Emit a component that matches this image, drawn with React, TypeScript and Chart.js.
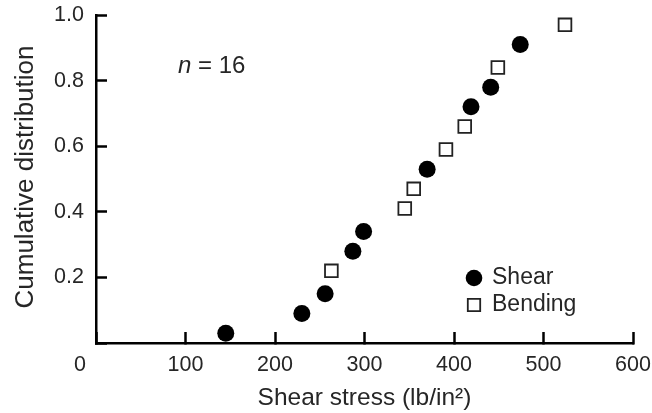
import React, { useEffect, useRef } from 'react';
import { Chart, registerables } from 'chart.js';

Chart.register(...registerables);

// ---- data ----
const shearX = [145, 230, 256, 287, 299, 370, 419, 441, 474];
const shearY = [0.03, 0.09, 0.15, 0.28, 0.34, 0.53, 0.72, 0.78, 0.91];
const bendingX = [263, 345, 355, 391, 412, 449, 524];
const bendingY = [0.22, 0.41, 0.47, 0.59, 0.66, 0.84, 0.97];
const xTickValues = [0, 100, 200, 300, 400, 500, 600];
const yTickValues = [0.2, 0.4, 0.6, 0.8, 1.0];
const seriesNames = ['Shear', 'Bending'];
const xTitle = 'Shear stress (lb/in\u00B2)';
const yTitle = 'Cumulative distribution';
const sampleLabel = 'n';
const sampleValue = ' = 16';

const FONT = '"Liberation Sans", Arial, Helvetica, sans-serif';
const TEXT = '#262626';
const TICK_FS = 21.5;

const overlayPlugin = {
  id: 'overlay',
  afterDraw(chart: any) {
    const { ctx, chartArea, scales } = chart;
    const xs = scales.x;
    ctx.save();
    ctx.fillStyle = TEXT;
    // "0" label on x axis (offset left of the axis corner)
    ctx.font = `${TICK_FS}px ${FONT}`;
    ctx.textAlign = 'center';
    ctx.textBaseline = 'middle';
    ctx.fillText(String(xTickValues[0]), xs.getPixelForValue(xTickValues[0]) - 16, chartArea.bottom + 22);

    // y axis title
    ctx.save();
    ctx.font = `26px ${FONT}`;
    ctx.translate(26, (chartArea.top + chartArea.bottom) / 2 - 2);
    ctx.rotate(-Math.PI / 2);
    ctx.textAlign = 'center';
    ctx.textBaseline = 'middle';
    ctx.fillText(yTitle, 0, 0);
    ctx.restore();

    // n = 16
    ctx.textAlign = 'left';
    ctx.textBaseline = 'middle';
    const nx = chartArea.left + 82;
    const ny = chartArea.top + 51;
    ctx.font = `italic 24px ${FONT}`;
    ctx.fillText(sampleLabel, nx, ny);
    const nw = ctx.measureText(sampleLabel).width;
    ctx.font = `24px ${FONT}`;
    ctx.fillText(sampleValue, nx + nw, ny);

    // legend
    const lx = chartArea.left + 378;
    const ly1 = chartArea.top + 263;
    const ly2 = chartArea.top + 290;
    ctx.fillStyle = '#000';
    ctx.beginPath();
    ctx.arc(lx, ly1, 8.3, 0, Math.PI * 2);
    ctx.fill();
    ctx.fillStyle = '#fff';
    ctx.strokeStyle = '#222';
    ctx.lineWidth = 1.8;
    ctx.beginPath();
    ctx.rect(lx - 6.2, ly2 - 6.2, 12.4, 12.4);
    ctx.fill();
    ctx.stroke();
    ctx.fillStyle = TEXT;
    ctx.font = `23px ${FONT}`;
    ctx.textAlign = 'left';
    ctx.fillText(seriesNames[0], lx + 18, ly1);
    ctx.fillText(seriesNames[1], lx + 18, ly2);
    ctx.restore();
  },
};

const zeroPadding = (s: any) => {
  s.paddingTop = 0;
  s.paddingBottom = 0;
  s.paddingLeft = 0;
  s.paddingRight = 0;
};

export default function App() {
  const ref = useRef<HTMLCanvasElement>(null);
  useEffect(() => {
    document.body.style.margin = '0';
    const canvas = ref.current;
    if (!canvas) return;
    const chart = new Chart(canvas, {
      type: 'scatter',
      data: {
        datasets: [
          {
            label: seriesNames[0],
            data: shearX.map((x, i) => ({ x, y: shearY[i] })),
            pointStyle: 'circle',
            pointRadius: 8.5,
            backgroundColor: '#000',
            borderColor: '#000',
            borderWidth: 0,
          },
          {
            label: seriesNames[1],
            data: bendingX.map((x, i) => ({ x, y: bendingY[i] })),
            pointStyle: 'rect',
            pointRadius: 9,
            backgroundColor: '#fff',
            borderColor: '#222',
            borderWidth: 1.8,
          },
        ],
      },
      options: {
        responsive: false,
        animation: false,
        events: [],
        layout: { padding: { top: 15, right: 19, left: 0, bottom: 0 }, autoPadding: false },
        plugins: {
          legend: { display: false },
          tooltip: { enabled: false },
        },
        scales: {
          x: {
            type: 'linear',
            min: 0,
            max: 600,
            afterBuildTicks: (s: any) => {
              s.ticks = xTickValues.map((v) => ({ value: v }));
            },
            afterFit: (s: any) => {
              s.height = 70;
              zeroPadding(s);
            },
            ticks: {
              color: TEXT,
              font: { family: FONT, size: TICK_FS },
              padding: 20,
              maxRotation: 0,
              autoSkip: false,
              callback: (v: any) => (v === 0 ? '' : String(v)),
            },
            grid: {
              drawOnChartArea: false,
              drawTicks: true,
              tickLength: -11,
              tickWidth: 2.5,
              tickColor: '#000',
            },
            border: { display: true, color: '#000', width: 2.5 },
            title: {
              display: true,
              text: xTitle,
              color: TEXT,
              font: { family: FONT, size: 24.5 },
              padding: { top: 0, bottom: 0 },
            },
          },
          y: {
            type: 'linear',
            min: 0,
            max: 1,
            afterBuildTicks: (s: any) => {
              s.ticks = [0, ...yTickValues].map((v) => ({ value: v }));
            },
            afterFit: (s: any) => {
              s.width = 96;
              zeroPadding(s);
            },
            ticks: {
              color: TEXT,
              font: { family: FONT, size: TICK_FS },
              padding: 23,
              autoSkip: false,
              callback: (v: any) => (v === 0 ? '' : Number(v).toFixed(1)),
            },
            grid: {
              drawOnChartArea: false,
              drawTicks: true,
              tickLength: -11,
              tickWidth: 2.5,
              tickColor: '#000',
            },
            border: { display: true, color: '#000', width: 2.5 },
          },
        },
      },
      plugins: [overlayPlugin],
    } as any);
    return () => chart.destroy();
  }, []);
  return (
    <div style={{ position: 'absolute', left: 0, top: 0, width: 652, height: 413, background: '#fff' }}>
      <canvas ref={ref} width={652} height={413} />
    </div>
  );
}
